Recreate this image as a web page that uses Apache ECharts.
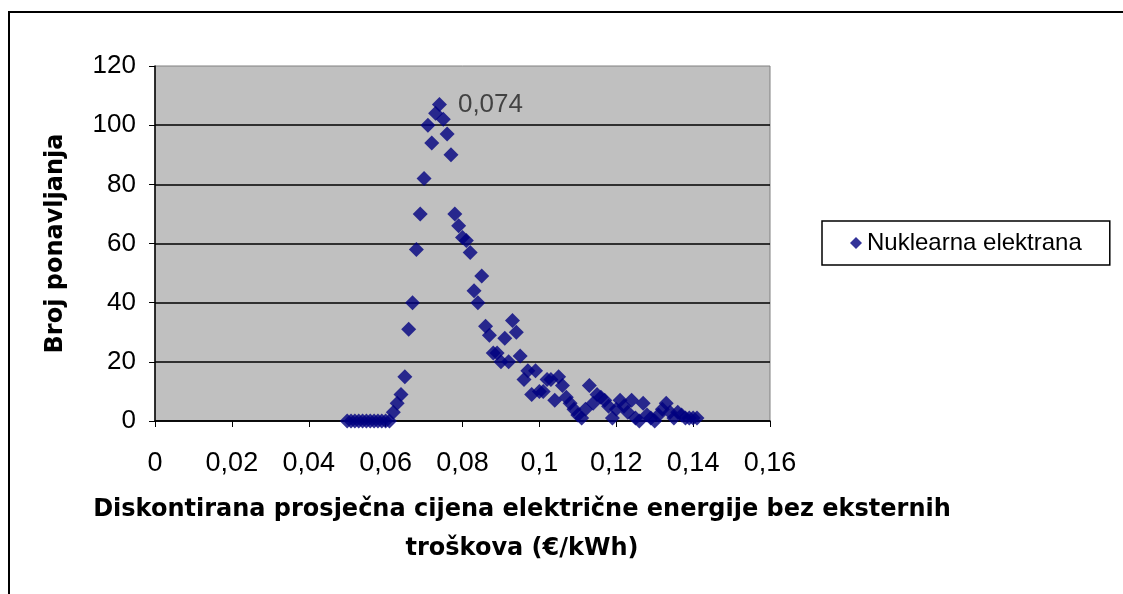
<!DOCTYPE html>
<html>
<head>
<meta charset="utf-8">
<script src="https://cdn.jsdelivr.net/npm/echarts@6/dist/echarts.min.js"></script>
<style>
  html, body { margin: 0; padding: 0; background: #fff; overflow: hidden; }
  #chart { position: absolute; left: 0; top: 0; width: 1123px; height: 594px; }
  #frame { position: absolute; left: 8px; top: 11px; width: 1200px; height: 700px;
           border-left: 2px solid #000; border-top: 2px solid #000; pointer-events: none; }
</style>
</head>
<body>
<div id="chart"></div>
<div id="frame"></div>
<script>
// cijena (€/kWh)
var xs = [0.050, 0.051, 0.052, 0.053, 0.054, 0.055, 0.056, 0.057, 0.058, 0.059, 0.060, 0.061,
          0.062, 0.063, 0.064, 0.065, 0.066, 0.067, 0.068, 0.069, 0.070, 0.071, 0.072, 0.073,
          0.074, 0.075, 0.076, 0.077, 0.078, 0.079, 0.080, 0.081, 0.082, 0.083, 0.084, 0.085,
          0.086, 0.087, 0.088, 0.089, 0.090, 0.091, 0.092, 0.093, 0.094, 0.095, 0.096, 0.097,
          0.098, 0.099, 0.100, 0.101, 0.102, 0.103, 0.104, 0.105, 0.106, 0.107, 0.108, 0.109,
          0.110, 0.111, 0.112, 0.113, 0.114, 0.115, 0.116, 0.117, 0.118, 0.119, 0.120, 0.121,
          0.122, 0.123, 0.124, 0.125, 0.126, 0.127, 0.128, 0.129, 0.130, 0.131, 0.132, 0.133,
          0.134, 0.135, 0.136, 0.137, 0.138, 0.139, 0.140, 0.141];
// broj ponavljanja
var ys = [0, 0, 0, 0, 0, 0, 0, 0, 0, 0, 0, 0,
          3, 6, 9, 15, 31, 40, 58, 70, 82, 100, 94, 104,
          107, 102, 97, 90, 70, 66, 62, 61, 57, 44, 40, 49,
          32, 29, 23, 23, 20, 28, 20, 34, 30, 22, 14, 17,
          9, 17, 10, 10, 14, 14, 7, 15, 12, 8, 6, 4,
          2, 1, 4, 12, 6, 9, 8, 7, 5, 1, 4, 7,
          5, 3, 7, 1, 0, 6, 2, 1, 0, 2, 4, 6,
          3, 1, 3, 2, 1, 1, 1, 1];
var xTicks = [0, 0.02, 0.04, 0.06, 0.08, 0.1, 0.12, 0.14, 0.16];
var yTicks = [0, 20, 40, 60, 80, 100, 120];
var peakX = 0.074;

var points = xs.map(function (x, i) {
    var p = { value: [x, ys[i]] };
    if (x === peakX) {
        p.label = {
            show: true,
            position: 'right',
            distance: 11,
            fontSize: 26,
            color: '#222',
            formatter: function (d) { return String(d.value[0]).replace('.', ','); }
        };
    }
    return p;
});

var font = 'Liberation Sans';
var chart = echarts.init(document.getElementById('chart'));
chart.setOption({
    backgroundColor: '#fff',
    textStyle: { fontFamily: font },
    animation: false,
    grid: {
        left: 155, right: 353, top: 66, bottom: 173,
        show: true,
        backgroundColor: '#C0C0C0',
        borderColor: '#808080',
        borderWidth: 1
    },
    legend: {
        left: 822, top: 221,
        padding: [10, 28, 10, 28],
        borderColor: '#000',
        borderWidth: 1.5,
        backgroundColor: '#fff',
        itemWidth: 12, itemHeight: 12,
        itemGap: 5,
        icon: 'diamond',
        textStyle: { fontSize: 24, color: '#000', fontFamily: font },
        data: ['Nuklearna elektrana']
    },
    xAxis: {
        type: 'value',
        min: xTicks[0], max: xTicks[xTicks.length - 1], interval: 0.02,
        axisLine: { show: true, onZero: false, lineStyle: { color: '#000', width: 1.5 } },
        axisTick: { show: true, inside: false, length: 6, lineStyle: { color: '#000' } },
        splitLine: { show: false },
        axisLabel: {
            fontSize: 27, color: '#000', margin: 29,
            formatter: function (v) { return String(Math.round(v * 100) / 100).replace('.', ','); }
        }
    },
    yAxis: {
        type: 'value',
        min: yTicks[0], max: yTicks[yTicks.length - 1], interval: 20,
        name: 'Broj ponavljanja',
        nameLocation: 'middle',
        nameGap: 87,
        nameTextStyle: { fontSize: 24, fontWeight: 'bold', color: '#000', fontFamily: 'DejaVu Sans' },
        axisLine: { show: true, lineStyle: { color: '#000', width: 1.5 } },
        axisTick: { show: true, inside: false, length: 6, lineStyle: { color: '#000' } },
        splitLine: { show: true, showMaxLine: false, lineStyle: { color: '#000', width: 1.5 } },
        axisLabel: { fontSize: 26, color: '#000', margin: 19 }
    },
    graphic: [{
        type: 'text',
        x: 522, y: 490,
        style: {
            text: 'Diskontirana prosječna cijena električne energije bez eksternih\ntroškova (€/kWh)',
            textAlign: 'center',
            font: 'bold 24px "DejaVu Sans"',
            lineHeight: 39,
            fill: '#000'
        }
    }],
    series: [{
        name: 'Nuklearna elektrana',
        type: 'scatter',
        symbol: 'diamond',
        symbolSize: 15,
        itemStyle: { color: '#000080' },
        data: points
    }]
});
</script>
</body>
</html>
